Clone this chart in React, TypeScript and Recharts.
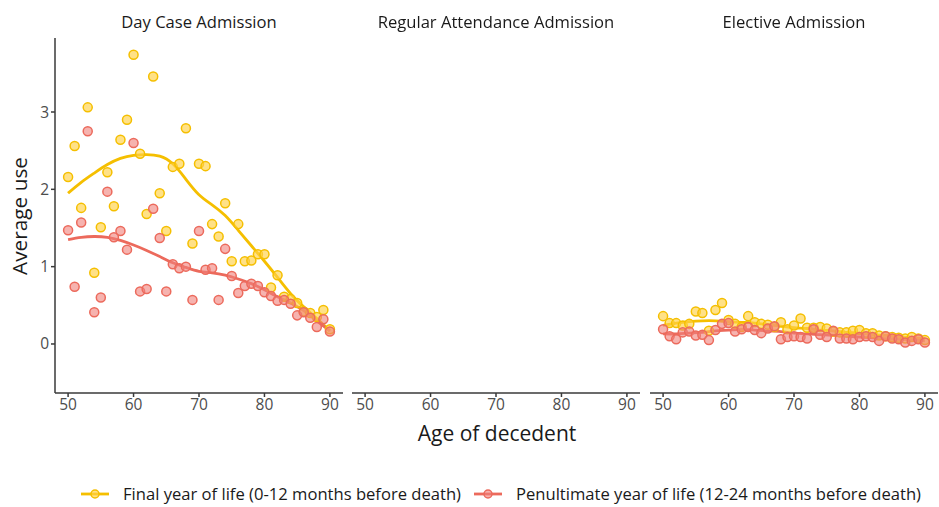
import React from 'react';
import { ComposedChart, Line, Scatter, XAxis, YAxis } from 'recharts';

const ages = [
  50, 51, 52, 53, 54, 55, 56, 57, 58, 59, 60, 61, 62, 63, 64, 65, 66, 67, 68, 69, 70,
  71, 72, 73, 74, 75, 76, 77, 78, 79, 80, 81, 82, 83, 84, 85, 86, 87, 88, 89, 90
];
const smoothAges = [50, 52, 54, 56, 58, 60, 62, 64, 66, 68, 70, 72, 74, 76, 78, 80, 82, 84, 86, 88, 90];

const panelTitles = ['Day Case Admission', 'Regular Attendance Admission', 'Elective Admission'];
const seriesNames = [
  'Final year of life (0-12 months before death)',
  'Penultimate year of life (12-24 months before death)'
];
const xTicks = [50, 60, 70, 80, 90];
const yTicks = [0, 1, 2, 3];

// Day Case Admission
const dayCaseFinal = [
  2.16, 2.56, 1.76, 3.06, 0.92, 1.51, 2.22, 1.78, 2.64, 2.9, 3.74, 2.46, 1.68, 3.46, 1.95, 1.46,
  2.29, 2.33, 2.79, 1.3, 2.33, 2.3, 1.55, 1.39, 1.82, 1.07, 1.55, 1.07, 1.08, 1.16, 1.16, 0.73,
  0.89, 0.61, 0.58, 0.53, 0.42, 0.4, 0.35, 0.44, 0.19
];
const dayCasePenult = [
  1.47, 0.74, 1.57, 2.75, 0.41, 0.6, 1.97, 1.38, 1.46, 1.22, 2.6, 0.68, 0.71, 1.75, 1.37, 0.68,
  1.03, 0.98, 1.0, 0.57, 1.46, 0.96, 0.98, 0.57, 1.23, 0.88, 0.66, 0.75, 0.78, 0.75, 0.67, 0.62,
  0.56, 0.57, 0.52, 0.37, 0.41, 0.34, 0.22, 0.32, 0.16
];
const dayCaseFinalSmooth = [
  1.95, 2.09, 2.21, 2.32, 2.4, 2.44, 2.45, 2.43, 2.33, 2.13, 1.93, 1.8, 1.66, 1.47, 1.27, 1.07,
  0.86, 0.65, 0.48, 0.33, 0.17
];
const dayCasePenultSmooth = [
  1.35, 1.38, 1.39, 1.38, 1.34, 1.28, 1.21, 1.13, 1.05, 0.99, 0.94, 0.92, 0.89, 0.84, 0.78, 0.7,
  0.61, 0.53, 0.43, 0.3, 0.17
];

// Elective Admission
const electiveFinal = [
  0.36, 0.27, 0.27, 0.24, 0.26, 0.42, 0.4, 0.17, 0.44, 0.53, 0.31, 0.26, 0.22, 0.36, 0.28, 0.26,
  0.25, 0.22, 0.28, 0.19, 0.24, 0.33, 0.21, 0.21, 0.22, 0.2, 0.16, 0.15, 0.15, 0.17, 0.18, 0.14,
  0.14, 0.11, 0.1, 0.09, 0.08, 0.07, 0.09, 0.07, 0.05
];
const electivePenult = [
  0.19, 0.1, 0.06, 0.15, 0.16, 0.11, 0.12, 0.05, 0.18, 0.26, 0.27, 0.16, 0.19, 0.22, 0.18, 0.14,
  0.2, 0.23, 0.06, 0.09, 0.1, 0.09, 0.07, 0.19, 0.12, 0.09, 0.17, 0.07, 0.07, 0.06, 0.09, 0.1,
  0.09, 0.04, 0.1, 0.07, 0.06, 0.02, 0.04, 0.06, 0.02
];
const electiveFinalSmooth = [
  0.24, 0.27, 0.29, 0.3, 0.3, 0.29, 0.28, 0.27, 0.25, 0.23, 0.21, 0.2, 0.18, 0.17, 0.15, 0.14,
  0.12, 0.11, 0.09, 0.08, 0.07
];
const electivePenultSmooth = [
  0.13, 0.13, 0.14, 0.15, 0.17, 0.18, 0.19, 0.18, 0.17, 0.16, 0.14, 0.13, 0.12, 0.11, 0.1, 0.09,
  0.08, 0.07, 0.06, 0.05, 0.04
];

const YELLOW = '#F5BF00';
const YELLOW_FILL = 'rgba(255, 209, 70, 0.65)';
const RED = '#EC6A5C';
const RED_FILL = 'rgba(240, 128, 122, 0.6)';
const FONT = '"Open Sans", "Noto Sans", sans-serif';

type Row = { age: number; final?: number; penult?: number; finalS?: number; penultS?: number };

const buildRows = (final?: number[], penult?: number[], finalS?: number[], penultS?: number[]): Row[] =>
  ages.map((age, i) => {
    const row: Row = { age };
    if (final) row.final = final[i];
    if (penult) row.penult = penult[i];
    const j = smoothAges.indexOf(age);
    if (j >= 0 && finalS) row.finalS = finalS[j];
    if (j >= 0 && penultS) row.penultS = penultS[j];
    return row;
  });

const panels = [
  { left: 0, width: 343, yAxis: true, rows: buildRows(dayCaseFinal, dayCasePenult, dayCaseFinalSmooth, dayCasePenultSmooth) },
  { left: 352, width: 288, yAxis: false, rows: buildRows() },
  { left: 650, width: 288, yAxis: false, rows: buildRows(electiveFinal, electivePenult, electiveFinalSmooth, electivePenultSmooth) }
];

const axisLine = { stroke: '#3a3a3a', strokeWidth: 1.5 };
const tickStyle = { fill: '#4D4D4D', fontSize: 15.5 };

const Panel = ({ left, width, yAxis, rows }: (typeof panels)[number]) => (
  <div style={{ position: 'absolute', left, top: 0 }}>
    <ComposedChart width={width} height={420} data={rows} margin={{ top: 38, right: 0, bottom: 0, left: 0 }}>
      <XAxis
        dataKey="age"
        type="number"
        domain={[48, 92]}
        ticks={xTicks}
        tickSize={4}
        height={27}
        axisLine={axisLine}
        tickLine={axisLine}
        tick={tickStyle}
      />
      <YAxis
        type="number"
        domain={[-0.634, 3.957]}
        ticks={yTicks}
        hide={!yAxis}
        width={55}
        tickSize={4}
        axisLine={axisLine}
        tickLine={axisLine}
        tick={tickStyle}
      />
      <Line dataKey="finalS" type="natural" stroke={YELLOW} strokeWidth={2.8} dot={false} connectNulls isAnimationActive={false} />
      <Line dataKey="penultS" type="natural" stroke={RED} strokeWidth={2.8} dot={false} connectNulls isAnimationActive={false} />
      <Scatter dataKey="final" fill={YELLOW_FILL} stroke={YELLOW} strokeWidth={1.5} isAnimationActive={false} />
      <Scatter dataKey="penult" fill={RED_FILL} stroke={RED} strokeWidth={1.5} isAnimationActive={false} />
    </ComposedChart>
  </div>
);

const LegendKey = ({ color, fill }: { color: string; fill: string }) => (
  <svg width={30} height={14} style={{ marginRight: 13 }}>
    <line x1={1} y1={7} x2={29} y2={7} stroke={color} strokeWidth={2.8} />
    <circle cx={15} cy={7} r={4} fill={fill} stroke={color} strokeWidth={1.5} />
  </svg>
);

export default function App() {
  const centers = [199, 496, 794];
  return (
    <div style={{ position: 'fixed', left: 0, top: 0, width: 939, height: 507, background: '#fff', fontFamily: FONT, color: '#1a1a1a' }}>
      {panels.map((p, i) => (
        <Panel key={i} {...p} />
      ))}
      {panelTitles.map((t, i) => (
        <div
          key={t}
          style={{ position: 'absolute', top: 10, left: centers[i] - 150, width: 300, textAlign: 'center', fontSize: 16.6 }}
        >
          {t}
        </div>
      ))}
      <div
        style={{
          position: 'absolute',
          left: 19,
          top: 216,
          transform: 'translate(-50%, -50%) rotate(-90deg)',
          fontSize: 20.8,
          whiteSpace: 'nowrap'
        }}
      >
        Average use
      </div>
      <div style={{ position: 'absolute', left: 347, width: 300, top: 419, textAlign: 'center', fontSize: 21 }}>
        Age of decedent
      </div>
      <div style={{ position: 'absolute', left: 80, top: 482, display: 'flex', alignItems: 'center', fontSize: 16.6 }}>
        <LegendKey color={YELLOW} fill={YELLOW_FILL} />
        <span style={{ marginRight: 12 }}>{seriesNames[0]}</span>
        <LegendKey color={RED} fill={RED_FILL} />
        <span>{seriesNames[1]}</span>
      </div>
    </div>
  );
}
